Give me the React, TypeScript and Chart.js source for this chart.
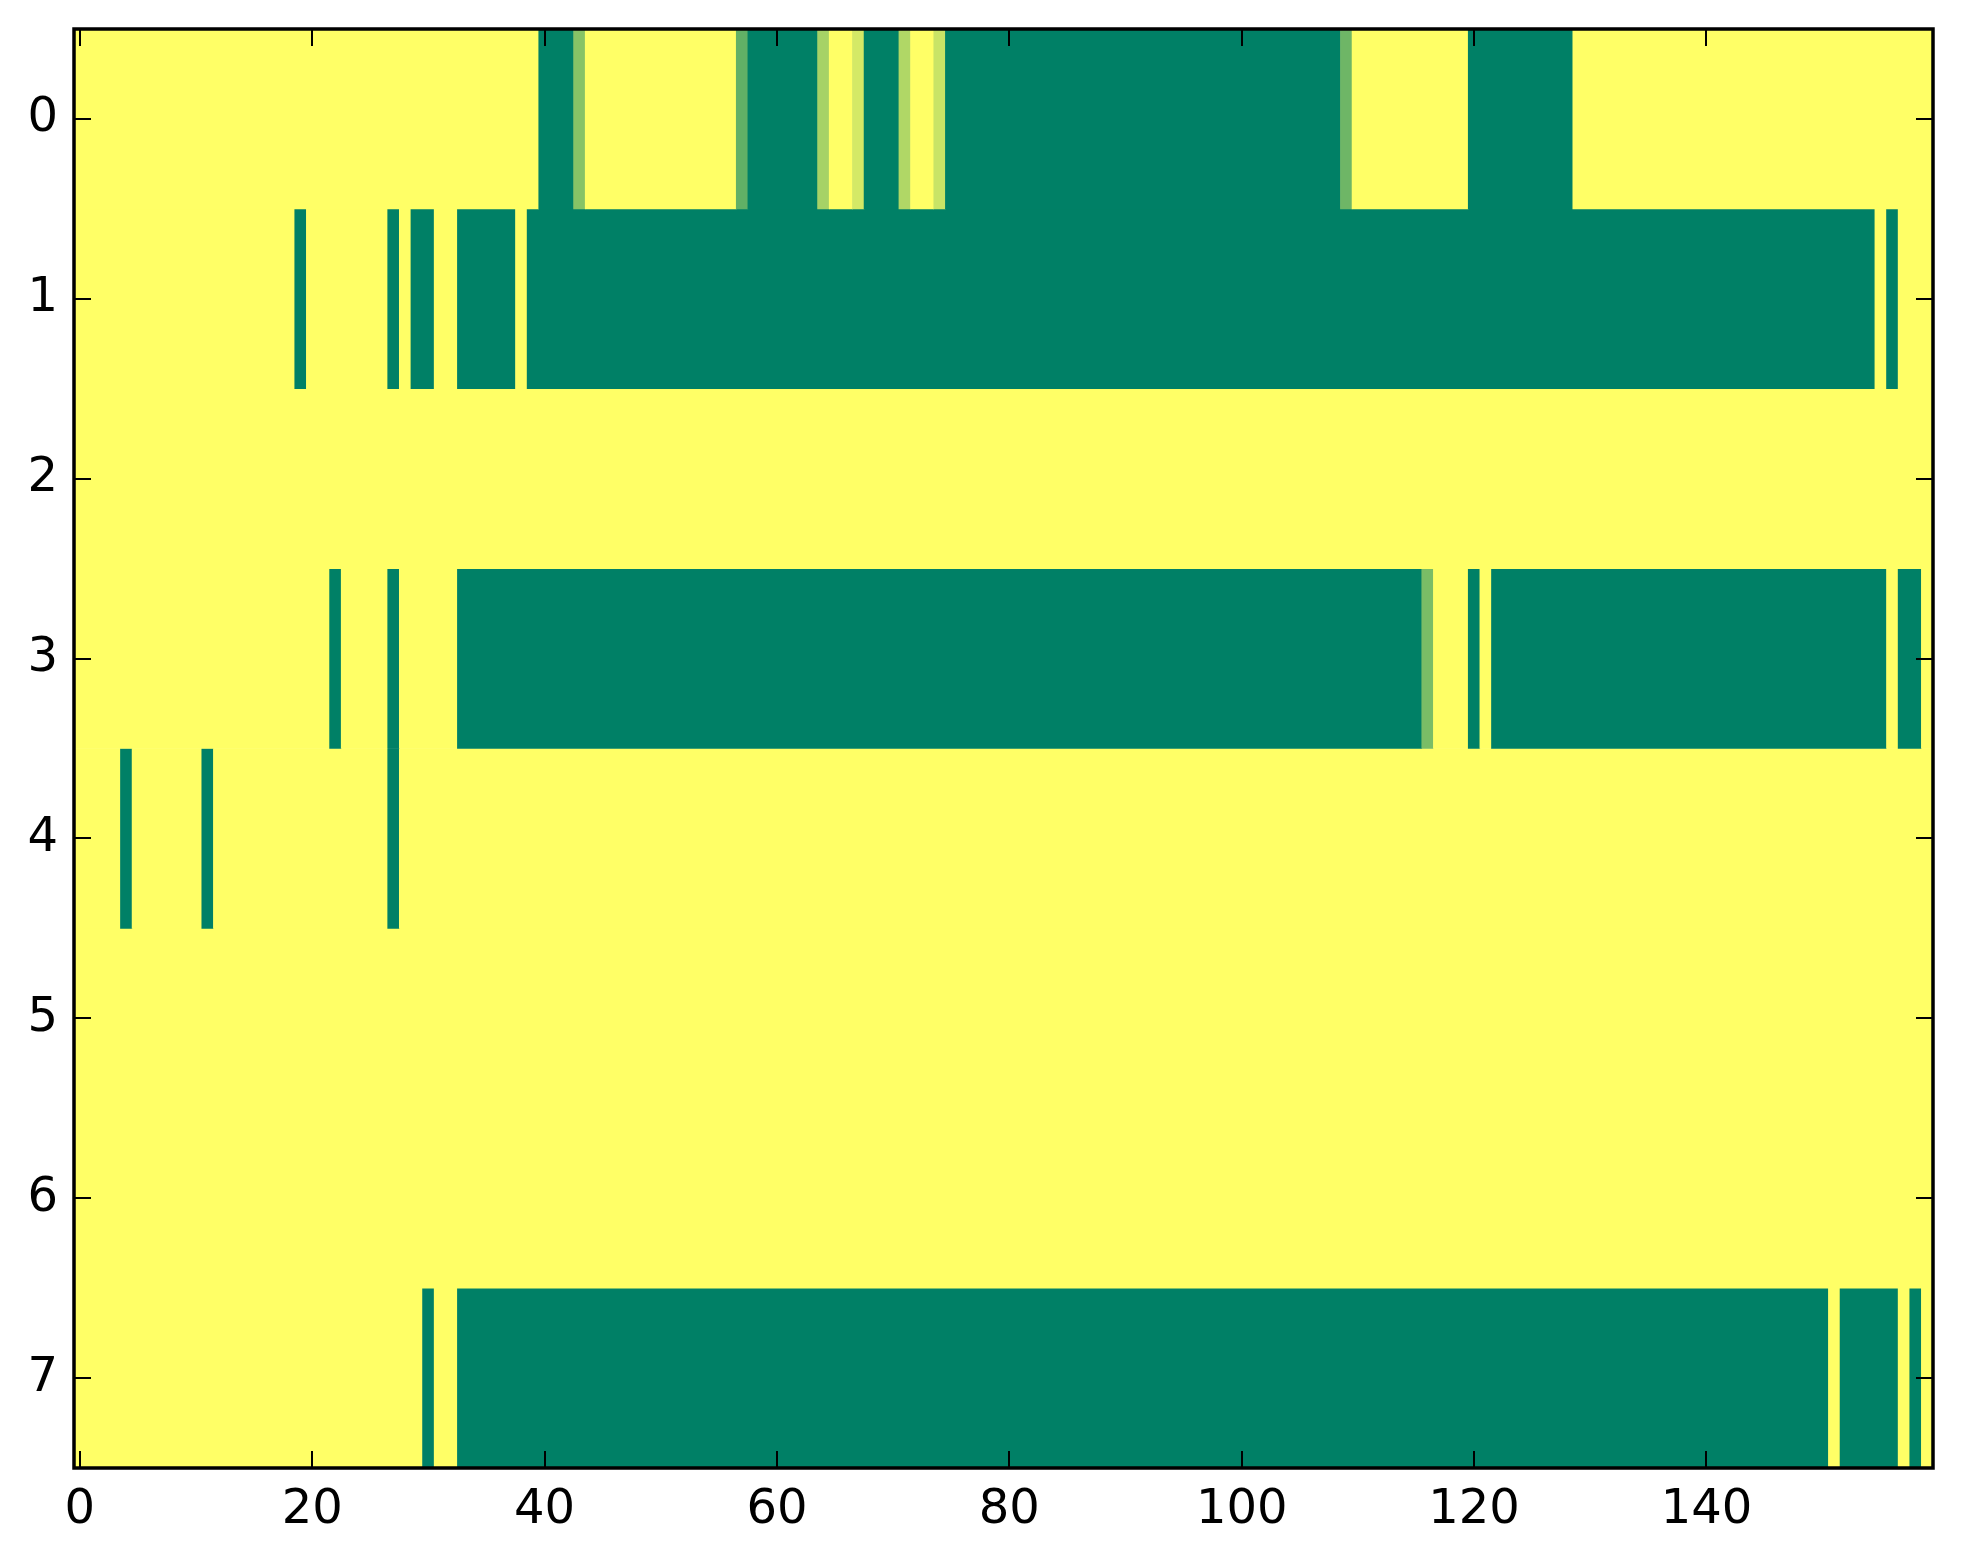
import React, { useEffect, useRef } from "react";
import { Chart, registerables } from "chart.js";

Chart.register(...registerables);

// Row labels (y categories) and x tick values
const rowLabels = ["0", "1", "2", "3", "4", "5", "6", "7"];
const xTickValues = [0, 20, 40, 60, 80, 100, 120, 140];
const columnCount = 160;

// Each row: runs of cells [firstColumn, lastColumn, value]
const row0: [number, number, number][] = [
  [0, 39, 1], [40, 42, 0], [43, 43, 0.53], [44, 56, 1], [57, 57, 0.38],
  [58, 63, 0], [64, 64, 0.65], [65, 66, 1], [67, 67, 0.83], [68, 70, 0],
  [71, 71, 0.69], [72, 73, 1], [74, 74, 0.79], [75, 108, 0], [109, 109, 0.43],
  [110, 119, 1], [120, 128, 0], [129, 159, 1],
];
const row1: [number, number, number][] = [
  [0, 18, 1], [19, 19, 0], [20, 26, 1], [27, 27, 0], [28, 28, 1], [29, 30, 0],
  [31, 32, 1], [33, 37, 0], [38, 38, 1], [39, 154, 0], [155, 155, 1],
  [156, 156, 0], [157, 159, 1],
];
const row2: [number, number, number][] = [[0, 159, 1]];
const row3: [number, number, number][] = [
  [0, 21, 1], [22, 22, 0], [23, 26, 1], [27, 27, 0], [28, 32, 1], [33, 115, 0],
  [116, 116, 0.48], [117, 119, 1], [120, 120, 0], [121, 121, 1], [122, 155, 0],
  [156, 156, 1], [157, 158, 0], [159, 159, 1],
];
const row4: [number, number, number][] = [
  [0, 3, 1], [4, 4, 0], [5, 10, 1], [11, 11, 0], [12, 26, 1], [27, 27, 0],
  [28, 159, 1],
];
const row5: [number, number, number][] = [[0, 159, 1]];
const row6: [number, number, number][] = [[0, 159, 1]];
const row7: [number, number, number][] = [
  [0, 29, 1], [30, 30, 0], [31, 32, 1], [33, 150, 0], [151, 151, 1],
  [152, 156, 0], [157, 157, 1], [158, 158, 0], [159, 159, 1],
];
const rows = [row0, row1, row2, row3, row4, row5, row6, row7];

// matplotlib "summer" colormap
function summer(v: number): string {
  const r = Math.round(255 * v);
  const g = Math.round(255 * (0.5 + 0.5 * v));
  const b = Math.round(255 * 0.4);
  return `rgb(${r},${g},${b})`;
}

const FONT = { family: "'DejaVu Sans', sans-serif", size: 48 };
const TICK_LEN = 17;

const framePlugin = {
  id: "frameAndTicks",
  afterDraw(chart: any) {
    const { ctx, chartArea } = chart;
    const { left, right, top, bottom } = chartArea;
    const xs = chart.scales.x;
    const ys = chart.scales.y;
    ctx.save();
    ctx.strokeStyle = "#000";
    ctx.lineWidth = 2;
    ctx.beginPath();
    for (const v of xTickValues) {
      const px = Math.round(xs.getPixelForValue(v));
      ctx.moveTo(px, bottom);
      ctx.lineTo(px, bottom - TICK_LEN);
      ctx.moveTo(px, top);
      ctx.lineTo(px, top + TICK_LEN);
    }
    for (let i = 0; i < rowLabels.length; i++) {
      const py = Math.round(ys.getPixelForTick(i));
      ctx.moveTo(left, py);
      ctx.lineTo(left + TICK_LEN, py);
      ctx.moveTo(right, py);
      ctx.lineTo(right - TICK_LEN, py);
    }
    ctx.stroke();
    ctx.lineWidth = 3.5;
    ctx.strokeRect(left, top, right - left, bottom - top);
    ctx.restore();
  },
};

export default function App() {
  const canvasRef = useRef<HTMLCanvasElement | null>(null);

  useEffect(() => {
    if (!canvasRef.current) return;
    const datasets = rows.map((runs, r) => ({
      label: rowLabels[r],
      data: runs.map(([a, b]) => ({ x: [a - 0.5, b + 0.5], y: rowLabels[r] })),
      backgroundColor: runs.map(([, , v]) => summer(v)),
      borderWidth: 0,
      grouped: false,
      categoryPercentage: 1,
      barPercentage: 1,
    }));
    const chart = new Chart(canvasRef.current, {
      type: "bar",
      data: { labels: rowLabels, datasets: datasets as any },
      plugins: [framePlugin],
      options: {
        indexAxis: "y",
        animation: false,
        responsive: false,
        devicePixelRatio: 1,
        layout: { padding: { left: 0, top: 29, right: 30, bottom: 0 } },
        plugins: { legend: { display: false }, tooltip: { enabled: false } },
        scales: {
          x: {
            type: "linear",
            min: -0.5,
            max: columnCount - 0.5,
            grid: { display: false, drawTicks: false },
            border: { display: false },
            ticks: {
              font: FONT,
              color: "#000",
              padding: 14,
              autoSkip: false,
              maxRotation: 0,
              callback: (v: any) => String(v),
            },
            afterBuildTicks: (s: any) => {
              s.ticks = xTickValues.map((v) => ({ value: v }));
            },
            afterFit: (s: any) => {
              s.height = 96;
              s.paddingLeft = 0;
              s.paddingRight = 0;
              s.paddingTop = 0;
              s.paddingBottom = 0;
            },
          },
          y: {
            type: "category",
            offset: true,
            grid: { display: false, drawTicks: false },
            border: { display: false },
            ticks: { font: FONT, color: "#000", padding: 16 },
            afterFit: (s: any) => {
              s.width = 74;
              s.paddingLeft = 0;
              s.paddingRight = 0;
              s.paddingTop = 0;
              s.paddingBottom = 0;
            },
          },
        },
      } as any,
    });
    return () => chart.destroy();
  }, []);

  return (
    <div style={{ position: "absolute", left: 0, top: 0, width: 1963, height: 1564, background: "#fff" }}>
      <canvas ref={canvasRef} width={1963} height={1564} style={{ display: "block", width: 1963, height: 1564 }} />
    </div>
  );
}
